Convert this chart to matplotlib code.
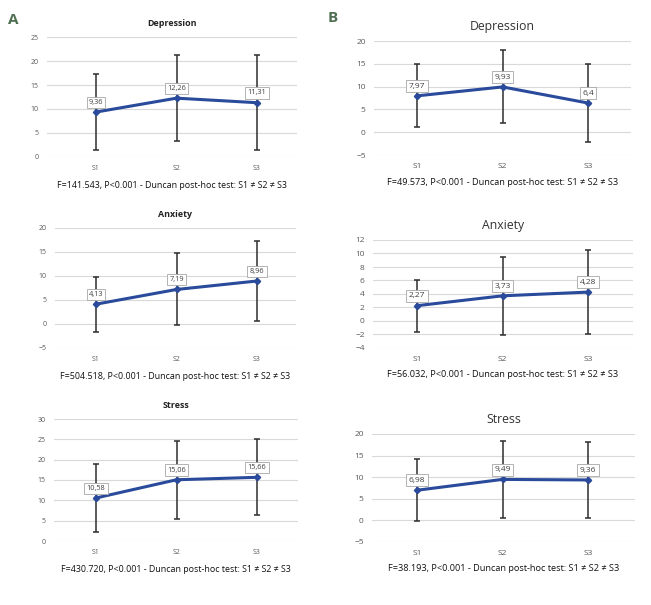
import numpy as np
import matplotlib
matplotlib.use('Agg')
import matplotlib.pyplot as plt

plt.rcParams['font.family'] = ['Open Sans', 'DejaVu Sans']

# ============================================================
# data
# ============================================================
sessions = ['S1', 'S2', 'S3']
scales = ['Depression', 'Anxiety', 'Stress']

a_means = [[9.36, 12.26, 11.31],
           [4.13, 7.19, 8.96],
           [10.58, 15.06, 15.66]]
a_sd = [[7.86, 9.0, 9.9],
        [5.75, 7.5, 8.25],
        [8.4, 9.6, 9.3]]
a_labels = [['9,36', '12,26', '11,31'],
            ['4,13', '7,19', '8,96'],
            ['10,58', '15,06', '15,66']]
a_captions = ['F=141.543, P<0.001 - Duncan post-hoc test: S1 \u2260 S2 \u2260 S3',
              'F=504.518, P<0.001 - Duncan post-hoc test: S1 \u2260 S2 \u2260 S3',
              'F=430.720, P<0.001 - Duncan post-hoc test: S1 \u2260 S2 \u2260 S3']
a_ylim = [(0, 25), (-5, 20), (0, 30)]
a_yticks = [np.arange(0, 26, 5), np.arange(-5, 21, 5), np.arange(0, 31, 5)]

b_means = [[7.97, 9.93, 6.4],
           [2.27, 3.73, 4.28],
           [6.98, 9.49, 9.36]]
b_sd = [[6.9, 8.0, 8.5],
        [3.85, 5.8, 6.25],
        [7.2, 9.0, 8.7]]
b_labels = [['7,97', '9,93', '6,4'],
            ['2,27', '3,73', '4,28'],
            ['6,98', '9,49', '9,36']]
b_captions = ['F=49.573, P<0.001 - Duncan post-hoc test: S1 \u2260 S2 \u2260 S3',
              'F=56.032, P<0.001 - Duncan post-hoc test: S1 \u2260 S2 \u2260 S3',
              'F=38.193, P<0.001 - Duncan post-hoc test: S1 \u2260 S2 \u2260 S3']
b_ylim = [(-5, 20), (-4, 12), (-5, 20)]
b_yticks = [np.arange(-5, 21, 5), np.arange(-4, 13, 2), np.arange(-5, 21, 5)]

# ============================================================
# layout (pixels)
# ============================================================
W, H = 651, 605
# (left, right, top, bottom)
a_boxes = [(47, 297, 37, 157), (55, 296, 228, 348), (54, 298, 419, 541)]
b_boxes = [(374, 631, 41, 155), (373, 633, 240, 348), (372, 635, 434, 542)]
a_xpix = (96, 257)
b_xpix = (417, 588)

LINE = '#2A4B9B'
ERR = '#2e2e2e'
GRID = '#D9D9D9'
TICK = '#595959'
LETTER = '#4F6F52'

fig = plt.figure(figsize=(W / 100, H / 100), dpi=100)


def add_panel(box, xpix, means, sd, labels, title, caption, ylim, yticks, big):
    l, r, t, b = box
    ax = fig.add_axes([l / W, 1 - b / H, (r - l) / W, (b - t) / H])
    step = (xpix[1] - xpix[0]) / 2.0
    x0 = 1 - (xpix[0] - l) / step
    x1 = 3 + (r - xpix[1]) / step
    x = np.arange(1, 4)

    ax.errorbar(x, means, yerr=sd, fmt='none', ecolor=ERR, elinewidth=1.1,
                capsize=2.2, capthick=1.1, zorder=2)
    ax.plot(x, means, color=LINE, lw=2.2, marker='D', ms=3.2, zorder=3)
    fs = 6 if big else 5.3
    for xi, yi, lab in zip(x, means, labels):
        ax.annotate(lab, (xi, yi), xytext=(0, 4.5), textcoords='offset points',
                    ha='center', va='bottom', fontsize=fs, color='#404040',
                    bbox=dict(boxstyle='square,pad=0.3', fc='white',
                              ec='#A6A6A6', lw=0.6), zorder=4)

    ax.set_xlim(x0, x1)
    ax.set_ylim(*ylim)
    ax.set_yticks(yticks)
    ax.set_xticks(x)
    ax.set_xticklabels(sessions)
    ax.yaxis.grid(True, color=GRID, lw=0.8)
    ax.set_axisbelow(True)
    for s in ax.spines.values():
        s.set_visible(False)
    ax.tick_params(length=0, labelsize=6 if big else 5, colors=TICK, pad=6)
    if big:
        ax.set_title(title, fontsize=8.8, color='#333333', pad=8)
    else:
        ax.set_title(title, fontsize=6.4, color='#222222', weight='bold', pad=8)
    ax.text(0.5, -0.2, caption, transform=ax.transAxes,
            ha='center', va='top', fontsize=6.4 if not big else 6.6,
            color='#111111')
    return ax


for i in range(3):
    add_panel(a_boxes[i], a_xpix, a_means[i], a_sd[i], a_labels[i], scales[i],
              a_captions[i], a_ylim[i], a_yticks[i], False)
    add_panel(b_boxes[i], b_xpix, b_means[i], b_sd[i], b_labels[i], scales[i],
              b_captions[i], b_ylim[i], b_yticks[i], True)

fig.text(13 / W, 1 - 20 / H, 'A', fontsize=11, weight='bold', color=LETTER,
         ha='center', va='center')
fig.text(333 / W, 1 - 18 / H, 'B', fontsize=11, weight='bold', color=LETTER,
         ha='center', va='center')

fig.savefig('out.png', dpi=100)
